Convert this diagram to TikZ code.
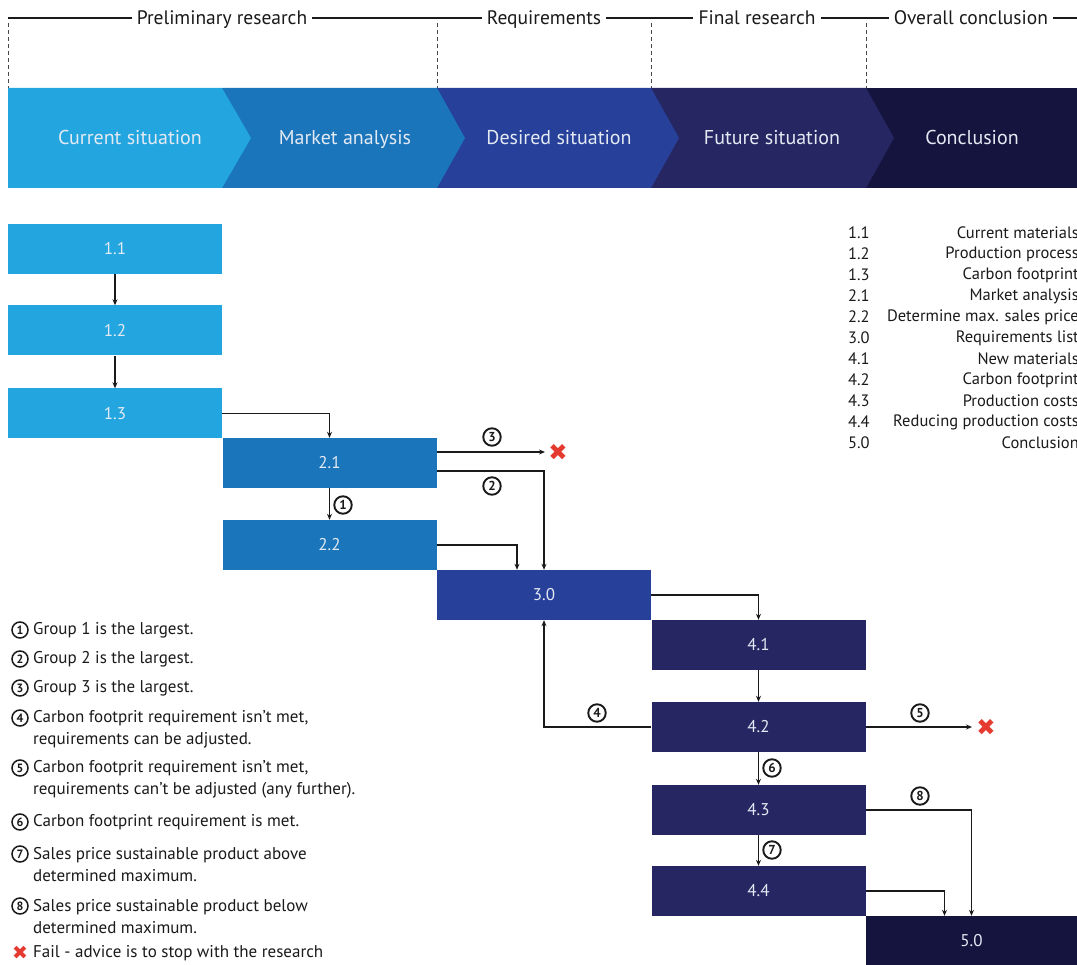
\documentclass[tikz,border=0pt]{standalone}
\usepackage{fontspec}
\setmainfont{PT Sans}
\newfontfamily\dejavu{DejaVu Sans}
\usetikzlibrary{arrows.meta}
\definecolor{cA}{HTML}{23A6DF}
\definecolor{cB}{HTML}{1A75BB}
\definecolor{cC}{HTML}{27409A}
\definecolor{cD}{HTML}{262762}
\definecolor{cE}{HTML}{15143F}
\definecolor{failred}{HTML}{E53A2F}
\definecolor{boxtxt}{HTML}{E4EAF3}
\definecolor{ink}{HTML}{1A1A1A}
\begin{document}
\begin{tikzpicture}[x=1pt,y=-1pt,
  box/.style={minimum width=214pt, minimum height=50pt, inner sep=0pt, text=boxtxt, font=\fontsize{17}{20}\selectfont},
  chevtxt/.style={text=boxtxt, font=\fontsize{20}{24}\selectfont, anchor=base, inner sep=0pt},
  hdr/.style={font=\fontsize{19.5}{22}\selectfont, inner xsep=5pt, inner ysep=0pt, text=ink, anchor=base},
  hline/.style={line width=1.2pt, ink},
  sepline/.style={line width=0.9pt, ink!80, dash pattern=on 4pt off 3pt},
  arr/.style={line width=1.5pt, ink, -{Stealth[length=6pt,width=5pt]}},
  lab/.style={circle, draw=ink, line width=1.9pt, minimum size=17.5pt, inner sep=0pt, text=ink, font=\bfseries\fontsize{13}{13}\selectfont},
  failx/.style={font=\dejavu\fontsize{23}{24}\selectfont, text=failred, inner sep=0pt},
  legr/.style={font=\fontsize{16.5}{18}\selectfont, text=ink, inner sep=0pt},
  legl/.style={font=\fontsize{17}{22}\selectfont, text=ink, inner sep=0pt, align=left, anchor=west},
  legsym/.style={circle, draw=ink, line width=1.5pt, minimum size=16pt, inner sep=0pt, text=ink, font=\bfseries\fontsize{12}{12}\selectfont}
]
\useasboundingbox[fill=white] (0,0) rectangle (1077,965);

% ---------- header ----------
\coordinate (hL) at (8,18);
\coordinate (hR) at (1077,18);
\node[hdr] (h1) at (222,25) {Preliminary research};
\node[hdr] (h2) at (544,25) {Requirements};
\node[hdr] (h3) at (757,25) {Final research};
\node[hdr] (h4) at (971,25) {Overall conclusion};
\draw[hline] (hL) -- (hL -| h1.west);
\draw[hline] (hL -| h1.east) -- (hL -| h2.west);
\draw[hline] (hL -| h2.east) -- (hL -| h3.west);
\draw[hline] (hL -| h3.east) -- (hL -| h4.west);
\draw[hline] (hL -| h4.east) -- (hR);
\foreach \xx in {8,437,651,866} \draw[sepline] (\xx,23) -- (\xx,88);

% ---------- chevron band ----------
\fill[cE] (866,88) rectangle (1077,188);
\fill[cD] (651,88) -- (866,88) -- (894,138) -- (866,188) -- (651,188) -- cycle;
\fill[cC] (437,88) -- (651,88) -- (679,138) -- (651,188) -- (437,188) -- cycle;
\fill[cB] (222,88) -- (437,88) -- (465,138) -- (437,188) -- (222,188) -- cycle;
\fill[cA] (8,88) -- (222,88) -- (251,138) -- (222,188) -- (8,188) -- cycle;
\node[chevtxt] (s1) at (130,145) {Current situation};
\node[chevtxt] (s2) at (345,145) {Market analysis};
\node[chevtxt] (s3) at (559,145) {Desired situation};
\node[chevtxt] (s4) at (772,145) {Future situation};
\node[chevtxt] (s5) at (972,145) {Conclusion};

% ---------- boxes ----------
\node[box, fill=cA] (b11) at (115,249) {1.1};
\node[box, fill=cA] (b12) at (115,330.5) {1.2};
\node[box, fill=cA] (b13) at (115,413.5) {1.3};
\node[box, fill=cB] (b21) at (329.5,463) {2.1};
\node[box, fill=cB] (b22) at (329.5,545) {2.2};
\node[box, fill=cC] (b30) at (544,595) {3.0};
\node[box, fill=cD] (b41) at (758.5,645) {4.1};
\node[box, fill=cD] (b42) at (758.5,727) {4.2};
\node[box, fill=cD] (b43) at (758.5,810) {4.3};
\node[box, fill=cD] (b44) at (758.5,891) {4.4};
\node[box, fill=cE, minimum width=212pt, minimum height=49pt] (b50) at (971.5,940.5) {5.0};

% ---------- connectors ----------
\draw[arr] (b11) -- (b12);
\draw[arr] (b12) -- (b13);
\draw[arr] (b13.east) -| (b21.north);
\draw[arr] (b21) -- (b22);
\coordinate (e3) at (545,452);
\draw[arr] ([yshift=11pt]b21.east) -- (e3);
\node[failx] (x3) at (558,452) {✖};
\draw[arr] ([yshift=-8pt]b21.east) -| (b30.north);
\draw[arr] (b22.east) -| ([xshift=-27pt]b30.north);
\draw[arr] (b30.east) -| (b41.north);
\draw[arr] (b41) -- (b42);
\draw[arr] (b42.west) -| (b30.south);
\coordinate (e5) at (972,727);
\draw[arr] (b42.east) -- (e5);
\node[failx] (x5) at (986,727) {✖};
\draw[arr] (b42) -- (b43);
\draw[arr] (b43) -- (b44);
\draw[arr] (b43.east) -| (b50.north);
\draw[arr] (b44.east) -| ([xshift=-27pt]b50.north);

% ---------- connector labels ----------
\node[lab] (l1) at (343,505) {1};
\node[lab] (l2) at (492,486) {2};
\node[lab] (l3) at (492,437) {3};
\node[lab] (l4) at (597,713) {4};
\node[lab] (l5) at (920,713) {5};
\node[lab] (l6) at (772,768) {6};
\node[lab] (l7) at (772,850) {7};
\node[lab] (l8) at (920,796) {8};

% ---------- right legend ----------
\foreach \n/\t [count=\i] in {1.1/Current materials, 1.2/Production process, 1.3/Carbon footprint, 2.1/Market analysis, 2.2/Determine max. sales price, 3.0/Requirements list, 4.1/New materials, 4.2/Carbon footprint, 4.3/Production costs, 4.4/Reducing production costs, 5.0/Conclusion}{
  \node[legr, anchor=west] (rn\i) at (848,212+21*\i) {\n};
  \node[legr, anchor=east] (rt\i) at (1079,212+21*\i) {\t};
}

% ---------- left legend ----------
\node[legsym] (k1) at (20,630) {1};
\node[legl] (t1) at (33,630) {Group 1 is the largest.};
\node[legsym] (k2) at (20,659) {2};
\node[legl] (t2) at (33,659) {Group 2 is the largest.};
\node[legsym] (k3) at (20,688) {3};
\node[legl] (t3) at (33,688) {Group 3 is the largest.};
\node[legsym] (k4) at (20,718) {4};
\node[legl] (t4) at (33,729) {Carbon footprit requirement isn’t met,\\requirements can be adjusted.};
\node[legsym] (k5) at (20,768) {5};
\node[legl] (t5) at (33,779) {Carbon footprit requirement isn’t met,\\requirements can’t be adjusted (any further).};
\node[legsym] (k6) at (20,822) {6};
\node[legl] (t6) at (33,822) {Carbon footprint requirement is met.};
\node[legsym] (k7) at (20,854) {7};
\node[legl] (t7) at (33,865) {Sales price sustainable product above\\determined maximum.};
\node[legsym] (k8) at (20,906) {8};
\node[legl] (t8) at (33,917) {Sales price sustainable product below\\determined maximum.};
\node[failx, font=\dejavu\fontsize{19}{20}\selectfont] (kx) at (20,953) {✖};
\node[legl] (tx) at (33,953) {Fail - advice is to stop with the research};
\end{tikzpicture}
\end{document}
